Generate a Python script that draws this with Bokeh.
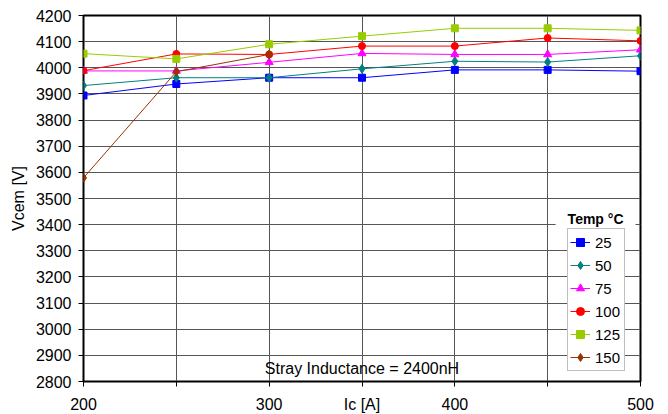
from bokeh.plotting import figure
from bokeh.models import FixedTicker, Legend, LegendItem, Label, Range1d
from bokeh.embed import file_html
from bokeh.resources import INLINE

ic = [200, 250, 300, 350, 400, 450, 500]
v25 = [3894, 3938, 3962, 3962, 3992, 3992, 3987]
v50 = [3932, 3962, 3962, 3996, 4025, 4022, 4046]
v75 = [3988, 3988, 4021, 4055, 4051, 4051, 4069]
v100 = [3989, 4053, 4051, 4083, 4083, 4114, 4103]
v125 = [4054, 4034, 4090, 4121, 4151, 4151, 4143]
ic150 = [200, 250, 300]
v150 = [3579, 3985, 4051]
series_labels = ["25", "50", "75", "100", "125", "150"]
x_ticks = [200, 250, 300, 350, 400, 450, 500]
x_tick_labels = ["200", "", "300", "Ic [A]", "400", "", "500"]
y_ticks = list(range(2800, 4201, 100))

FONT = "Liberation Sans"

p = figure(width=668, height=414, frame_width=557, frame_height=366,
           min_border_left=83, min_border_right=28, min_border_top=15, min_border_bottom=33,
           x_range=Range1d(200, 500), y_range=Range1d(2800, 4200),
           output_backend="svg", toolbar_location=None)

p.background_fill_color = "white"
p.border_fill_color = "white"
p.outline_line_color = "black"
p.outline_line_width = 2

p.xgrid.ticker = FixedTicker(ticks=x_ticks)
p.ygrid.ticker = FixedTicker(ticks=y_ticks)
p.grid.grid_line_color = "#555555"
p.grid.grid_line_width = 1

p.xaxis.ticker = FixedTicker(ticks=x_ticks)
p.xaxis.major_label_overrides = {t: l for t, l in zip(x_ticks, x_tick_labels)}
p.yaxis.ticker = FixedTicker(ticks=y_ticks)
for ax in (p.xaxis, p.yaxis):
    ax.axis_line_color = None
    ax.major_tick_in = 0
    ax.major_tick_out = 5
    ax.major_tick_line_color = "black"
    ax.minor_tick_line_color = None
    ax.major_label_text_font = FONT
    ax.major_label_text_font_size = "16px"
    ax.major_label_text_color = "black"
p.xaxis.major_label_standoff = 9
p.yaxis.major_label_standoff = 7
p.yaxis.axis_label = "Vcem [V]"
p.yaxis.axis_label_text_font = FONT
p.yaxis.axis_label_text_font_size = "16px"
p.yaxis.axis_label_text_font_style = "normal"
p.yaxis.axis_label_text_color = "black"
p.yaxis.axis_label_standoff = 6

specs = [
    (ic, v25, "#0000FF", "square", 7),
    (ic, v50, "#008080", "diamond", 9),
    (ic, v75, "#FF00FF", "triangle", 8),
    (ic, v100, "#FF0000", "circle", 7),
    (ic, v125, "#99CC00", "square", 7),
    (ic150, v150, "#993300", "diamond", 9),
]

items = []
for (xs, ys, col, mk, sz), lab in zip(specs, series_labels):
    ln = p.line(xs, ys, line_color=col, line_width=1)
    sc = p.scatter(xs, ys, marker=mk, size=sz, fill_color=col, line_color=col)
    items.append(LegendItem(label=lab, renderers=[ln, sc]))

legend = Legend(items=items, location=(484, 10))
legend.label_text_font = FONT
legend.label_text_font_size = "15px"
legend.label_text_color = "black"
legend.border_line_color = "#808080"
legend.border_line_width = 1
legend.background_fill_color = "white"
legend.background_fill_alpha = 1
legend.padding = 2
legend.spacing = 1
legend.label_height = 22
legend.glyph_height = 22
legend.glyph_width = 20
legend.label_standoff = 5
legend.label_width = 27
legend.margin = 0
p.add_layout(legend, "center")

p.add_layout(Label(x=350, y=2850, text="Stray Inductance = 2400nH", text_align="center",
                   text_baseline="middle", text_font=FONT, text_font_size="16px",
                   text_color="black"))
p.add_layout(Label(x=475.8, y=3422, text="Temp °C", text_align="center",
                   text_baseline="middle", text_font=FONT, text_font_size="14px",
                   text_font_style="bold", text_color="black",
                   background_fill_color="white", padding=(12, 2)))

open("out.html", "w").write(file_html(p, INLINE))
